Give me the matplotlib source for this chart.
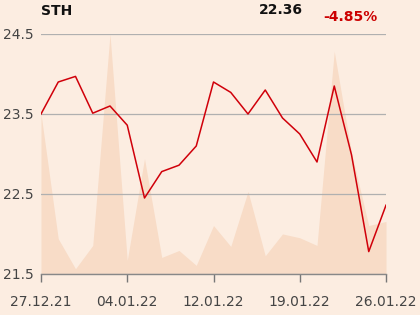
import matplotlib
matplotlib.use("Agg")
import matplotlib.pyplot as plt
import numpy as np

tick_labels = ["27.12.21", "04.01.22", "12.01.22", "19.01.22", "26.01.22"]
tick_index = [0, 5, 10, 15, 20]
price = [23.50, 23.90, 23.97, 23.51, 23.60, 23.36, 22.45, 22.78, 22.86, 23.10,
         23.90, 23.77, 23.50, 23.80, 23.45, 23.25, 22.90, 23.85, 22.99, 21.78, 22.36]
volume = [66.8, 14.7, 2.2, 11.9, 100.0, 5.7, 48.1, 6.9, 9.8, 3.6,
          20.2, 11.5, 34.4, 7.6, 16.7, 15.1, 11.9, 92.8, 50.6, 20.2, 21.9]
yticks = [21.5, 22.5, 23.5, 24.5]

bg = "#FCEDE1"
fig = plt.figure(figsize=(4.2, 3.15), dpi=100, facecolor=bg)
ax = fig.add_axes([41/420, (315-274)/315, (386-41)/420, 240/315])
ax.set_facecolor(bg)
x = np.arange(len(price))

ax2 = ax.twinx()
ax2.fill_between(x, 0, volume, color="#F8DCC7", lw=0)
ax2.set_ylim(0, max(volume))
ax2.axis("off")
ax.set_zorder(ax2.get_zorder() + 1)
ax.patch.set_visible(False)
fig.patch.set_facecolor(bg)
ax2.set_facecolor(bg)

for yv in yticks:
    ax.axhline(yv, color="#B0B0B0", lw=0.9, zorder=1)
ax.plot(x, price, color="#D0000A", lw=1.1, zorder=3)

ax.set_xlim(0, len(price) - 1)
ax.set_ylim(21.5, 24.5)
ax.set_yticks(yticks)
ax.set_yticklabels([f"{v}" for v in yticks])
ax.set_xticks(tick_index)
ax.set_xticklabels(tick_labels)
for s in ["top", "right", "left"]:
    ax.spines[s].set_visible(False)
ax.spines["bottom"].set_color("#888888")
ax.spines["bottom"].set_linewidth(1.0)
ax.tick_params(axis="y", length=0, pad=5.5, labelsize=10, labelcolor="#444444")
ax.tick_params(axis="x", length=6, width=1, color="#777777", pad=9, labelsize=10, labelcolor="#444444")

fig.text(41/420, 1 - 11/315, "STH", fontsize=10, fontweight="bold", va="center", ha="left", color="#111111")
fig.text(303/420, 1 - 10/315, "22.36", fontsize=10, fontweight="bold", va="center", ha="right", color="#111111")
fig.text(378/420, 1 - 17/315, "-4.85%", fontsize=10, fontweight="bold", va="center", ha="right", color="#CC0000")

fig.savefig("out.png", dpi=100, facecolor=bg)
